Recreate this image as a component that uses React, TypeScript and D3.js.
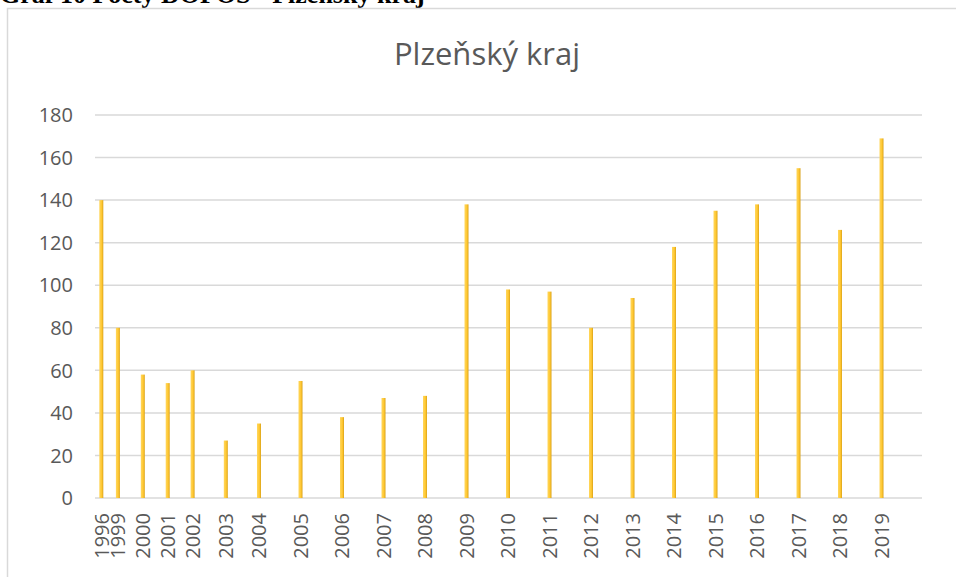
import React, { useEffect, useRef } from 'react';
import * as d3 from 'd3';

// years shown on the axis
const years = ['1996', '1999', '2000', '2001', '2002', '2003', '2004', '2005', '2006', '2007', '2008',
  '2009', '2010', '2011', '2012', '2013', '2014', '2015', '2016', '2017', '2018', '2019'];
// counts per year
const counts = [140, 80, 58, 54, 60, 27, 35, 55, 38, 47, 48, 138, 98, 97, 80, 94, 118, 135, 138, 155, 126, 169];
// position of each year on the (uneven) axis
const axisPos = [0, 2, 5, 8, 11, 15, 19, 24, 29, 34, 39, 44, 49, 54, 59, 64, 69, 74, 79, 84, 89, 94];
const yTicks = [0, 20, 40, 60, 80, 100, 120, 140, 160, 180];

const App = () => {
  const ref = useRef<SVGSVGElement>(null);

  useEffect(() => {
    const svg = d3.select(ref.current);
    svg.selectAll('*').remove();

    const data = years.map((y, i) => ({ year: y, value: counts[i], pos: axisPos[i] }));

    const x = d3.scaleLinear().domain([0, 94]).range([101.3, 881.5]);
    const y = d3.scaleLinear().domain([0, 180]).range([498, 115]);
    const gridLeft = 95;
    const gridRight = 922;
    const font = '"Open Sans", sans-serif';

    const defs = svg.append('defs');
    const grad = defs.append('linearGradient').attr('id', 'barGrad')
      .attr('x1', '0').attr('x2', '1').attr('y1', '0').attr('y2', '0');
    grad.append('stop').attr('offset', '0').attr('stop-color', '#FFD75E');
    grad.append('stop').attr('offset', '0.6').attr('stop-color', '#FFC730');
    grad.append('stop').attr('offset', '1').attr('stop-color', '#D9A21A');

    // heading above the chart (cut off at the top, as in the source)
    svg.append('text')
      .attr('x', 0)
      .attr('y', 3)
      .style('font-family', '"Liberation Serif", "Times New Roman", serif')
      .style('font-weight', 'bold')
      .style('font-size', '26px')
      .attr('fill', '#000')
      .text('Graf 10 Počty DOPOS - Plzeňský kraj');

    // chart frame
    svg.append('rect')
      .attr('x', 7.5)
      .attr('y', 8.5)
      .attr('width', 1000)
      .attr('height', 600)
      .attr('fill', '#fff')
      .attr('stroke', '#d9d9d9')
      .attr('stroke-width', 1.5);

    svg.append('text')
      .attr('x', 487)
      .attr('y', 65)
      .attr('text-anchor', 'middle')
      .style('font-family', font)
      .style('font-size', '31px')
      .attr('fill', '#595959')
      .text('Plzeňský kraj');

    // gridlines
    svg.append('g')
      .selectAll('line')
      .data(yTicks)
      .enter()
      .append('line')
      .attr('x1', gridLeft)
      .attr('x2', gridRight)
      .attr('y1', (d) => y(d))
      .attr('y2', (d) => y(d))
      .attr('stroke', '#d9d9d9')
      .attr('stroke-width', 1.5);

    // y labels
    svg.append('g')
      .selectAll('text')
      .data(yTicks)
      .enter()
      .append('text')
      .attr('x', 73)
      .attr('y', (d) => y(d))
      .attr('dy', '0.36em')
      .attr('text-anchor', 'end')
      .style('font-family', font)
      .style('font-size', '20px')
      .attr('fill', '#595959')
      .text((d) => d);

    // bars
    const barW = 4;
    svg.append('g')
      .selectAll('rect')
      .data(data)
      .enter()
      .append('rect')
      .attr('x', (d) => x(d.pos) - barW / 2)
      .attr('y', (d) => y(d.value))
      .attr('width', barW)
      .attr('height', (d) => y(0) - y(d.value))
      .attr('fill', 'url(#barGrad)');

    // x labels, rotated
    svg.append('g')
      .selectAll('text')
      .data(data)
      .enter()
      .append('text')
      .attr('transform', (d) => `translate(${x(d.pos)},${513}) rotate(-90)`)
      .attr('dy', '0.36em')
      .attr('text-anchor', 'end')
      .style('font-family', font)
      .style('font-size', '20px')
      .attr('fill', '#595959')
      .text((d) => d.year);
  }, []);

  return (
    <svg
      ref={ref}
      width={956}
      height={577}
      style={{ position: 'absolute', left: 0, top: 0, background: '#fff' }}
    />
  );
};

export default App;
